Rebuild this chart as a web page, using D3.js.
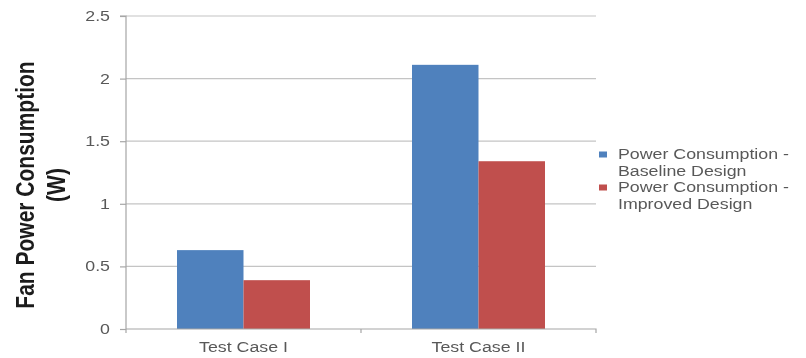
<!DOCTYPE html>
<html>
<head>
<meta charset="utf-8">
<script src="https://cdn.jsdelivr.net/npm/d3@7"></script>
<style>
  html, body { margin: 0; padding: 0; background: #fff; }
  svg { display: block; font-family: "Liberation Sans", Arial, sans-serif; }
</style>
</head>
<body>
<svg id="chart" width="806" height="358"></svg>
<script>
// Fan power consumption per test case
const categories = ["Test Case I", "Test Case II"];
const seriesNames = ["Power Consumption - Baseline Design", "Power Consumption - Improved Design"];
const baseline = [0.63, 2.11];
const improved = [0.39, 1.34];
const yTicks = [0, 0.5, 1, 1.5, 2, 2.5];
const colors = ["#4F81BD", "#C0504D"];

// text is drawn wide (horizontal stretch factor)
const SX = 1.27;
function stretch(sel) {
  sel.each(function () {
    const t = d3.select(this);
    const x = +t.attr("x") || 0;
    t.attr("transform", `translate(${x * (1 - SX)},0) scale(${SX},1)`);
  });
}

const svg = d3.select("#chart");
const plot = { left: 126, right: 596, top: 16, bottom: 329 };

const x = d3.scaleBand().domain(categories).range([plot.left, plot.right]).paddingInner(0).paddingOuter(0);
const x1 = d3.scaleBand().domain([0, 1]).range([0, x.bandwidth()]).paddingInner(0).paddingOuter(0.767);
const y = d3.scaleLinear().domain([0, 2.5]).range([plot.bottom, plot.top]);

svg.append("defs").append("filter").attr("id", "soft")
  .append("feGaussianBlur").attr("stdDeviation", 0.45);
const g = svg.append("g").attr("filter", "url(#soft)");

// gridlines
g.append("g").selectAll("line").data(yTicks.filter(d => d > 0)).join("line")
  .attr("x1", plot.left).attr("x2", plot.right)
  .attr("y1", d => y(d)).attr("y2", d => y(d))
  .attr("stroke", "#c4c4c4").attr("stroke-width", 1.2);

// bars
const series = [baseline, improved];
categories.forEach((c, i) => {
  series.forEach((s, j) => {
    g.append("rect")
      .attr("x", x(c) + x1(j))
      .attr("width", x1.bandwidth())
      .attr("y", y(s[i]))
      .attr("height", y(0) - y(s[i]))
      .attr("fill", colors[j]);
  });
});

// y axis
const yAxis = d3.axisLeft(y).tickValues(yTicks).tickSize(6).tickPadding(10)
  .tickFormat(d => d3.format("")(d));
const ya = g.append("g").attr("transform", `translate(${plot.left},0)`).call(yAxis);
ya.select(".domain").attr("stroke", "#a6a6a6").attr("stroke-width", 1.2).attr("d", `M-6,${plot.top}H0V${plot.bottom + 4}`);
ya.selectAll(".tick line").attr("stroke", "#a6a6a6").attr("stroke-width", 1.2);
ya.selectAll(".tick text").attr("fill", "#595959").style("font-size", "14px")
  .style("font-family", "'Liberation Sans', Arial, sans-serif").call(stretch);

// x axis
const xAxis = d3.axisBottom(x).tickSize(0).tickPadding(10);
const xa = g.append("g").attr("transform", `translate(0,${plot.bottom})`).call(xAxis);
xa.select(".domain").attr("stroke", "#a6a6a6").attr("stroke-width", 1.2)
  .attr("d", `M${plot.left},0H${plot.right}V4`);
xa.selectAll(".tick text").attr("fill", "#595959").style("font-size", "14px")
  .style("font-family", "'Liberation Sans', Arial, sans-serif").attr("dy", "0.9em");
xa.selectAll(".tick").each(function () {
  d3.select(this).select("text").attr("transform", `scale(${SX},1)`);
});
// category divider ticks
g.append("g").selectAll("line").data([categories[1]]).join("line")
  .attr("x1", d => x(d)).attr("x2", d => x(d))
  .attr("y1", plot.bottom).attr("y2", plot.bottom + 4)
  .attr("stroke", "#a6a6a6").attr("stroke-width", 1.2);

// y title
const yt = g.append("text")
  .attr("transform", `translate(0,185) scale(${SX},1) rotate(-90)`)
  .attr("text-anchor", "middle")
  .attr("fill", "#1a1a1a")
  .style("font-size", "21px").style("font-weight", "bold");
yt.append("tspan").attr("x", 0).attr("y", 34 / SX).text("Fan Power Consumption");
yt.append("tspan").attr("x", 0).attr("y", 65 / SX).text("(W)");

// legend
const legend = g.append("g");
const legendY = [154, 187];
seriesNames.forEach((name, j) => {
  const parts = name.split(" - ");
  legend.append("rect").attr("x", 599).attr("y", legendY[j] - 2.5).attr("width", 8).attr("height", 6).attr("fill", colors[j]);
  const t = legend.append("text").attr("x", 618).attr("y", legendY[j] + 5)
    .attr("fill", "#595959").style("font-size", "14px");
  t.append("tspan").attr("x", 618).text(parts[0] + " -");
  t.append("tspan").attr("x", 618).attr("dy", "17.5").text(parts[1]);
  t.call(stretch);
});
</script>
</body>
</html>
